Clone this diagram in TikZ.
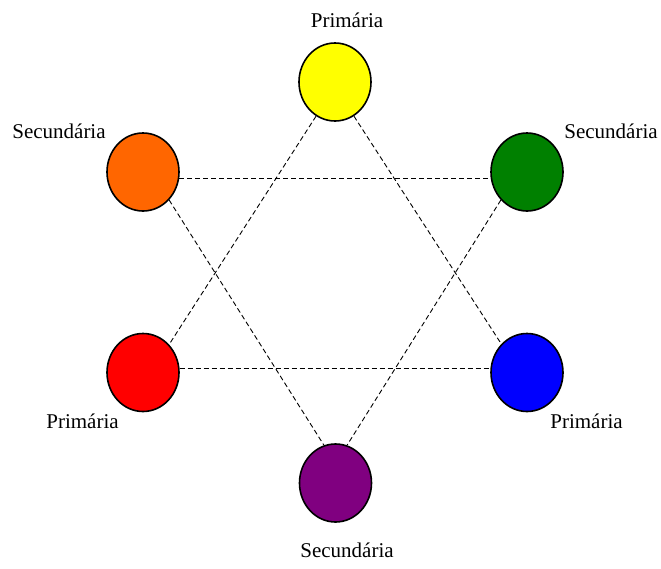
\documentclass[tikz,border=0pt]{standalone}
\usepackage{fontspec}
\setmainfont{Liberation Serif}
\definecolor{cyellow}{HTML}{FFFF00}
\definecolor{corange}{HTML}{FF6600}
\definecolor{cgreen}{HTML}{008000}
\definecolor{cred}{HTML}{FF0000}
\definecolor{cblue}{HTML}{0000FF}
\definecolor{cpurple}{HTML}{800080}
\tikzset{
  colordot/.style={ellipse, draw=black, line width=1.6pt, minimum width=72pt, minimum height=78pt, inner sep=0pt},
  lbl/.style={font=\fontsize{21}{25}\selectfont, anchor=base, inner sep=0pt},
  link/.style={dashed, dash pattern=on 5pt off 3pt, line width=0.9pt}
}
\usetikzlibrary{shapes.geometric}
\begin{document}
\begin{tikzpicture}[x=1pt,y=-1pt]
\useasboundingbox (0,0) rectangle (661,568);
\node[colordot, fill=cyellow] (yel) at (335,82) {};
\node[colordot, fill=corange] (ora) at (143,172) {};
\node[colordot, fill=cgreen] (gre) at (527,172) {};
\node[colordot, fill=cred] (red) at (143,372.5) {};
\node[colordot, fill=cblue] (blu) at (527,372.5) {};
\node[colordot, fill=cpurple] (pur) at (335.5,483) {};
\draw[link] (yel.241) -- (red.47.6);
\draw[link] (yel.299) -- (blu.132.4);
\draw[link] (red.7.6) -- (red.7.6 -| blu.172.4);
\draw[link] (ora.350.5) -- (ora.350.5 -| gre.189.5);
\draw[link] (ora.313) -- (pur.107);
\draw[link] (gre.227) -- (pur.73);
\node[lbl] (lyel) at (347,27) {Primária};
\node[lbl] (lora) at (59,138) {Secundária};
\node[lbl] (lgre) at (611,138) {Secundária};
\node[lbl] (lred) at (82.5,428) {Primária};
\node[lbl] (lblu) at (586.5,428) {Primária};
\node[lbl] (lpur) at (347,557) {Secundária};
\end{tikzpicture}
\end{document}
